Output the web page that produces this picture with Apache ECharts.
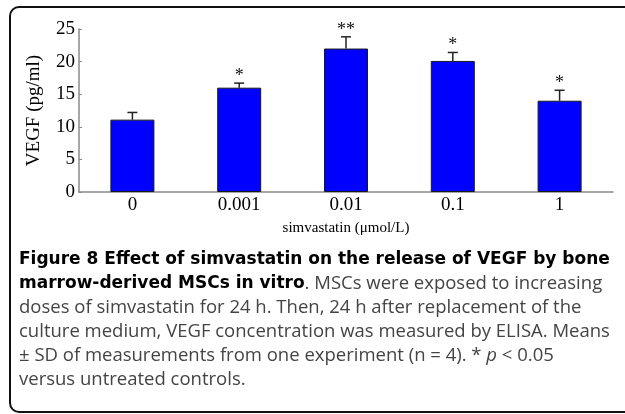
<!DOCTYPE html>
<html>
<head>
<meta charset="utf-8">
<script src="https://cdn.jsdelivr.net/npm/echarts@6/dist/echarts.min.js"></script>
<style>
  html, body { margin: 0; padding: 0; background: #fff; }
  #chart { width: 625px; height: 414px; }
</style>
</head>
<body>
<div id="chart"></div>
<script>
// values
var categories = ['0', '0.001', '0.01', '0.1', '1'];
var means = [11.1, 16.0, 22.0, 20.1, 14.0];
var sd = [1.1, 0.7, 1.8, 1.3, 1.6];
var sig = ['', '*', '**', '*', '*'];
var yTicks = { min: 0, max: 25, interval: 5 };

var serif = 'Liberation Serif';

var caption =
  '{b|Figure 8 Effect of simvastatin on the release of VEGF by bone}\n' +
  '{b|marrow-derived MSCs in vitro}. MSCs were exposed to increasing\n' +
  'doses of simvastatin for 24 h. Then, 24 h after replacement of the\n' +
  'culture medium, VEGF concentration was measured by ELISA. Means\n' +
  '± SD of measurements from one experiment (n = 4). * {i|p} < 0.05\n' +
  'versus untreated controls.';

var errData = means.map(function (m, i) {
  return [i, m, m + sd[i], sig[i]];
});

var chart = echarts.init(document.getElementById('chart'));

chart.setOption({
  animation: false,
  grid: { left: 79, right: 12, top: 29, bottom: 222 },
  xAxis: {
    type: 'category',
    data: categories,
    name: 'simvastatin (μmol/L)',
    nameLocation: 'middle',
    nameGap: 29,
    nameTextStyle: { fontFamily: serif, fontSize: 15, color: '#000' },
    axisLine: { lineStyle: { color: '#8a8a8a', width: 1.5 } },
    axisTick: { inside: true, length: 3, lineStyle: { color: '#8a8a8a' } },
    axisLabel: { fontFamily: serif, fontSize: 19, color: '#000', margin: 4 }
  },
  yAxis: {
    type: 'value',
    min: yTicks.min,
    max: yTicks.max,
    interval: yTicks.interval,
    name: 'VEGF (pg/ml)',
    nameLocation: 'middle',
    nameGap: 35,
    nameRotate: 90,
    nameTextStyle: { fontFamily: serif, fontSize: 19, color: '#000' },
    splitLine: { show: false },
    axisLine: { show: true, lineStyle: { color: '#8a8a8a', width: 1.5 } },
    axisTick: { show: true, inside: true, length: 3, lineStyle: { color: '#8a8a8a' } },
    axisLabel: { fontFamily: serif, fontSize: 19, color: '#000', margin: 4 }
  },
  series: [
    {
      type: 'bar',
      data: means,
      barWidth: 44,
      itemStyle: { color: '#0000ff', borderColor: '#1a1a1a', borderWidth: 1 }
    },
    {
      type: 'custom',
      data: errData,
      z: 3,
      renderItem: function (params, api) {
        var i = api.value(0);
        var base = api.coord([i, api.value(1)]);
        var top = api.coord([i, api.value(2)]);
        var s = errData[params.dataIndex][3];
        return {
          type: 'group',
          children: [
            {
              type: 'line',
              shape: { x1: base[0], y1: base[1], x2: top[0], y2: top[1] },
              style: { stroke: '#222', lineWidth: 1.5 }
            },
            {
              type: 'line',
              shape: { x1: top[0] - 5, y1: top[1], x2: top[0] + 5, y2: top[1] },
              style: { stroke: '#222', lineWidth: 1.5 }
            },
            {
              type: 'text',
              x: top[0],
              y: top[1] + 2,
              style: {
                text: s,
                fontFamily: serif,
                fontSize: 18,
                fill: '#111',
                align: 'center',
                verticalAlign: 'bottom'
              }
            }
          ]
        };
      }
    }
  ],
  graphic: [
    {
      type: 'rect',
      shape: { x: 10, y: 7, width: 640, height: 405, r: 9 },
      style: { fill: 'none', stroke: '#111', lineWidth: 2 },
      silent: true
    },
    {
      type: 'text',
      left: 19,
      top: 248,
      style: {
        text: caption,
        fontFamily: 'Open Sans',
        fontSize: 18.5,
        lineHeight: 24,
        fill: '#444',
        rich: {
          b: { fontFamily: 'DejaVu Sans', fontSize: 17, fontWeight: 'bold', fill: '#000', lineHeight: 24 },
          i: { fontFamily: 'Open Sans', fontSize: 18.5, fontStyle: 'italic', fill: '#444', lineHeight: 24 }
        }
      }
    }
  ]
});
</script>
</body>
</html>
